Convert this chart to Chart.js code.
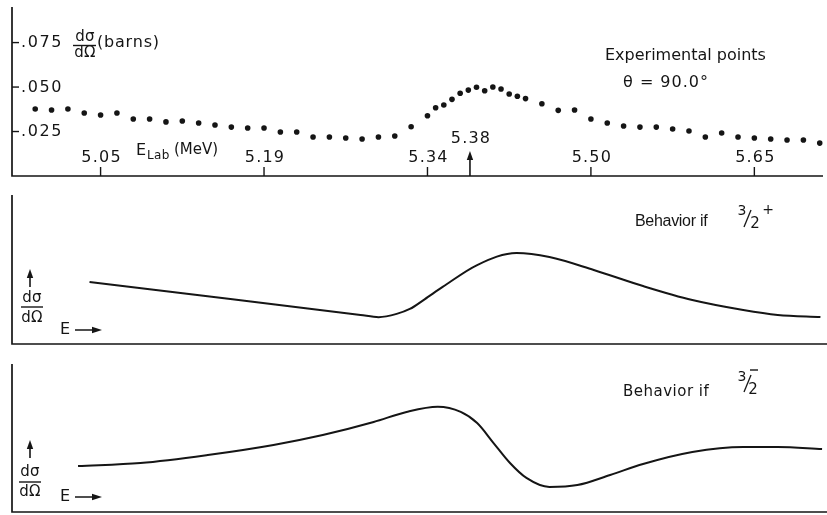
<!DOCTYPE html>
<html>
<head>
<meta charset="utf-8">
<script src="https://cdn.jsdelivr.net/npm/chart.js@4.4.1/dist/chart.umd.min.js"></script>
<style>
  html, body { margin: 0; padding: 0; background: #ffffff; }
  #figure { position: relative; width: 827px; height: 515px; overflow: hidden; background: #ffffff; }
  #figure canvas { position: absolute; left: 0; }
</style>
</head>
<body>
<div id="figure">
  <canvas id="scan" width="827" height="180" style="top:0px;width:827px;height:180px"></canvas>
  <canvas id="plus" width="827" height="170" style="top:180px;width:827px;height:170px"></canvas>
  <canvas id="minus" width="827" height="165" style="top:350px;width:827px;height:165px"></canvas>
</div>
<script>
// Energy axis in scan channels: ten channels between labelled ticks.
const channels = [
  16, 17, 18, 19, 20, 21, 22, 23, 24, 25, 26, 27, 28, 29, 30, 31, 32, 33, 34, 35,
  36, 37, 38, 39, 40, 40.5, 41, 41.5, 42, 42.5, 43, 43.5, 44, 44.5, 45, 45.5, 46,
  47, 48, 49, 50, 51, 52, 53, 54, 55, 56, 57, 58, 59, 60, 61, 62, 63, 64
];
// Measured differential cross section at 90 degrees (barns).
const crossSection = [
  0.0377, 0.0371, 0.0377, 0.0354, 0.0343, 0.0354, 0.0320, 0.0320, 0.0304, 0.0309,
  0.0298, 0.0287, 0.0275, 0.0270, 0.0270, 0.0247, 0.0247, 0.0219, 0.0219, 0.0214,
  0.0208, 0.0219, 0.0225, 0.0277, 0.0339, 0.0384, 0.0399, 0.0431, 0.0465, 0.0483,
  0.0499, 0.0479, 0.0500, 0.0489, 0.0461, 0.0448, 0.0435, 0.0406, 0.0369, 0.0371,
  0.0320, 0.0298, 0.0281, 0.0275, 0.0275, 0.0264, 0.0253, 0.0219, 0.0242, 0.0219,
  0.0214, 0.0208, 0.0202, 0.0202, 0.0185
];

// Labelled energies (MeV) on the scan axis.
const tickChannels = [20, 30, 40, 50, 60];
const tickLabels = ['5.05', '5.19', '5.34', '5.50', '5.65'];
const resonanceChannel = 42.6;
const resonanceLabel = '5.38';

// Cross-section ticks (barns).
const yTickValues = [0.025, 0.050, 0.075];
const yTickLabels = ['.025', '.050', '.075'];

// Expected shape for a 3/2+ resonance (arbitrary units).
const plusChannels = [19.3, 28.0, 35.8, 36.9, 38.0, 38.8, 39.7, 40.8, 42.9, 45.3, 47.3, 50.0, 53.0, 56.0, 59.1, 61.2, 63.8];
const plusValues   = [41.6, 30.0, 19.5, 18.0, 20.2, 23.5, 30.0, 38.3, 53.0, 61.1, 58.4, 49.7, 38.9, 29.5, 22.8, 19.5, 18.1];

// Expected shape for a 3/2- resonance (arbitrary units).
const minusChannels = [18.6, 22.4, 26.5, 30.5, 33.5, 36.6, 38.6, 40.5, 41.9, 42.9, 43.9, 44.9, 45.9, 47.3, 49.0, 51.0, 53.0, 56.0, 59.1, 61.2, 63.9];
const minusValues   = [31.1, 33.1, 38.5, 45.3, 52.0, 60.8, 67.6, 71.1, 67.6, 60.1, 46.6, 33.1, 23.0, 16.9, 18.2, 25.0, 32.4, 40.5, 43.9, 43.9, 42.6];

const FONT = '"DejaVu Sans", "Liberation Sans", sans-serif';
const NARROW = '"Liberation Sans", "DejaVu Sans", sans-serif';
const INK = '#151515';
const X_MIN = 14.58, X_MAX = 64.2;

function pairs(xs, ys) { return xs.map((x, i) => ({ x, y: ys[i] })); }

function label(ctx, str, x, y, size, align, spacing, family) {
  ctx.save();
  ctx.font = size + 'px ' + (family || FONT);
  ctx.fillStyle = INK;
  ctx.textAlign = align || 'left';
  ctx.textBaseline = 'middle';
  if ('letterSpacing' in ctx) ctx.letterSpacing = (spacing || 0) + 'px';
  ctx.fillText(str, x, y);
  ctx.restore();
}

function seg(ctx, x1, y1, x2, y2, w) {
  ctx.save();
  ctx.strokeStyle = INK;
  ctx.lineWidth = w || 1.5;
  ctx.beginPath();
  ctx.moveTo(x1, y1);
  ctx.lineTo(x2, y2);
  ctx.stroke();
  ctx.restore();
}

function upArrow(ctx, x, yBottom, yTop) {
  seg(ctx, x, yBottom, x, yTop + 6, 1.6);
  ctx.save();
  ctx.fillStyle = INK;
  ctx.beginPath();
  ctx.moveTo(x, yTop);
  ctx.lineTo(x - 3.2, yTop + 9);
  ctx.lineTo(x + 3.2, yTop + 9);
  ctx.closePath();
  ctx.fill();
  ctx.restore();
}

function rightArrow(ctx, xLeft, xRight, y) {
  seg(ctx, xLeft, y, xRight - 6, y, 1.5);
  ctx.save();
  ctx.fillStyle = INK;
  ctx.beginPath();
  ctx.moveTo(xRight, y);
  ctx.lineTo(xRight - 10, y - 3.2);
  ctx.lineTo(xRight - 10, y + 3.2);
  ctx.closePath();
  ctx.fill();
  ctx.restore();
}

function frame(chart) {
  const { ctx, chartArea: a } = chart;
  ctx.save();
  ctx.strokeStyle = INK;
  ctx.lineWidth = 1.7;
  ctx.beginPath();
  ctx.moveTo(a.left, a.top);
  ctx.lineTo(a.left, a.bottom);
  ctx.lineTo(a.right, a.bottom);
  ctx.stroke();
  ctx.restore();
}

// dσ/dΩ with an upward arrow and "E →" in the lower-left corner of a panel.
function shapeLegend(ctx, top, arrowBottom, fracTop, fracLine, fracBottom, eY, fracX) {
  upArrow(ctx, 30, arrowBottom, top);
  label(ctx, 'd\u03c3', fracX, fracTop, 15, 'center', 0.3);
  seg(ctx, fracX - 11, fracLine, fracX + 11, fracLine, 1.4);
  label(ctx, 'd\u03a9', fracX, fracBottom, 15, 'center', 0.3);
  label(ctx, 'E', 60, eY, 16, 'left', 0);
  rightArrow(ctx, 75, 102, eY);
}

// Axis frame under the data, annotations on top; each panel supplies its own drawing.
const decorPlugin = {
  id: 'decor',
  beforeDatasetsDraw(chart, args, opts) {
    frame(chart);
  },
  afterDatasetsDraw(chart, args, opts) {
    if (!opts || typeof opts.draw !== 'function') return;
    const ctx = chart.ctx;
    ctx.save();
    ctx.translate(0, -opts.offset);
    opts.draw(chart, ctx);
    ctx.restore();
  }
};
Chart.register(decorPlugin);

function baseOptions(yMax, padding, offset, draw) {
  return {
    responsive: false,
    animation: false,
    events: [],
    layout: { padding },
    plugins: {
      legend: { display: false },
      tooltip: { enabled: false },
      decor: { offset, draw }
    },
    scales: {
      x: { type: 'linear', min: X_MIN, max: X_MAX, display: false },
      y: { type: 'linear', min: 0, max: yMax, display: false }
    }
  };
}

// Panel 1: measured points.
new Chart(document.getElementById('scan'), {
  type: 'scatter',
  data: {
    datasets: [{
      data: pairs(channels, crossSection),
      pointRadius: 2.8,
      pointBackgroundColor: INK,
      pointBorderWidth: 0,
      showLine: false
    }]
  },
  options: baseOptions(0.095, { left: 12, right: 0, top: 7, bottom: 4 }, 0, (chart, ctx) => {
    const xs = chart.scales.x, ys = chart.scales.y, a = chart.chartArea;
    yTickValues.forEach((v, i) => {
      const py = ys.getPixelForValue(v);
      seg(ctx, a.left, py, a.left + 7, py, 1.4);
      label(ctx, yTickLabels[i], a.left + 9, py + 0.5, 16, 'left', 1.6);
    });
    tickChannels.forEach((c, i) => {
      const px = xs.getPixelForValue(c);
      seg(ctx, px, a.bottom, px, a.bottom - 9, 1.4);
      label(ctx, tickLabels[i], px + 1, a.bottom - 18, 16, 'center', 1.2);
    });
    const rx = xs.getPixelForValue(resonanceChannel);
    upArrow(ctx, rx, a.bottom, a.bottom - 25);
    label(ctx, resonanceLabel, rx + 1, a.bottom - 37, 16, 'center', 1.2);

    label(ctx, 'd\u03c3', 85, 37, 15, 'center', 0.3);
    seg(ctx, 73, 45.5, 96, 45.5, 1.4);
    label(ctx, 'd\u03a9', 85, 53, 15, 'center', 0.3);
    label(ctx, '(barns)', 97, 43, 16, 'left', 0.8);

    label(ctx, 'E', 136, 151, 16, 'left', 0);
    label(ctx, 'Lab', 147, 156, 12, 'left', 0.3);
    label(ctx, '(MeV)', 174, 150, 15, 'left', 0);

    label(ctx, 'Experimental points', 605, 56, 16, 'left', 0);
    label(ctx, '\u03b8 = 90.0\u00b0', 623, 83, 16, 'left', 1);
  })
});

// Panel 2: behaviour for 3/2+.
new Chart(document.getElementById('plus'), {
  type: 'line',
  data: {
    datasets: [{
      data: pairs(plusChannels, plusValues),
      borderColor: INK,
      borderWidth: 2,
      pointRadius: 0,
      cubicInterpolationMode: 'monotone',
      fill: false
    }]
  },
  options: baseOptions(100, { left: 12, right: 0, top: 15, bottom: 6 }, 180, (chart, ctx) => {
    label(ctx, 'Behavior if', 635, 222, 16, 'left', -0.3, NARROW);
    label(ctx, '3', 742, 211, 14, 'center', 0);
    seg(ctx, 744, 227, 751, 210, 1.3);
    label(ctx, '2', 755, 224, 15, 'center', 0);
    label(ctx, '+', 768, 210, 14, 'center', 0);
    shapeLegend(ctx, 269, 287, 298, 307, 318, 330, 32);
  })
});

// Panel 3: behaviour for 3/2-.
new Chart(document.getElementById('minus'), {
  type: 'line',
  data: {
    datasets: [{
      data: pairs(minusChannels, minusValues),
      borderColor: INK,
      borderWidth: 2,
      pointRadius: 0,
      cubicInterpolationMode: 'monotone',
      fill: false
    }]
  },
  options: baseOptions(100, { left: 12, right: 0, top: 14, bottom: 3 }, 350, (chart, ctx) => {
    label(ctx, 'Behavior if', 623, 392, 15, 'left', 0.5);
    label(ctx, '3', 742, 377, 14, 'center', 0);
    seg(ctx, 744, 392, 751, 375, 1.3);
    label(ctx, '2', 753, 390, 15, 'center', 0);
    seg(ctx, 750, 370, 758, 370, 1.4);
    shapeLegend(ctx, 440, 458, 472, 482, 492, 497, 30);
  })
});
</script>
</body>
</html>
